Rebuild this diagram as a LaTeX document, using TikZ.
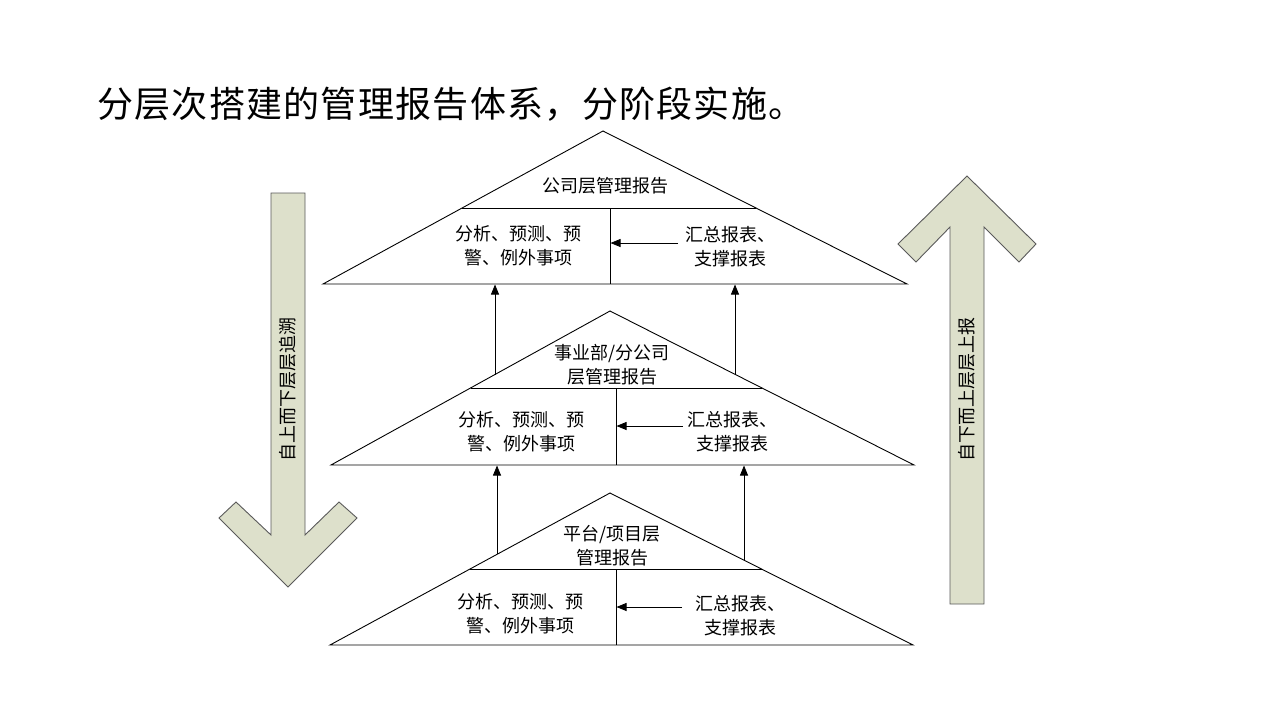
\documentclass[tikz,border=0pt]{standalone}
\usepackage{fontspec}
\newfontfamily\cjk{Noto Sans CJK SC}
\newfontfamily\cjktitle[LetterSpace=3.6]{Noto Sans CJK SC}
\usetikzlibrary{arrows.meta}
\definecolor{arrowfill}{RGB}{221,224,203}
\definecolor{arrowline}{RGB}{90,90,90}
\tikzset{
  tri/.style={draw=black, line width=0.9pt, line join=miter},
  sep/.style={draw=black, line width=0.9pt},
  lbl/.style={font=\cjk\fontsize{18}{24}\selectfont, align=center, inner sep=0pt},
  flow/.style={draw=black, line width=0.8pt, -{Triangle[length=10pt,width=8pt]}},
  block/.style={fill=arrowfill, draw=arrowline, line width=0.9pt, line join=miter},
}
\begin{document}
\begin{tikzpicture}[x=1pt,y=-1pt]
\useasboundingbox[fill=white] (0,0) rectangle (1280,720);

% title
\node[anchor=west, inner sep=0pt, font=\cjktitle\fontsize{36}{40}\selectfont] (title) at (97,104) {分层次搭建的管理报告体系，分阶段实施。};

% block arrows
\draw[block] (271,193) -- (305,193) -- (305,535) -- (339,502) -- (357,518) -- (288,587) -- (219,518) -- (236,502) -- (271,535) -- cycle;
\node[lbl, rotate=90] (down) at (288,389) {自上而下层层追溯};
\draw[block] (967,176) -- (1036,244) -- (1019,262) -- (984,227) -- (984,604) -- (950,604) -- (950,227) -- (916,262) -- (898,244) -- cycle;
\node[lbl, rotate=90] (up) at (967,389) {自下而上层层上报};

% top triangle
\draw[tri] (323,284) -- (603,131) -- (907,284) -- cycle;
\draw[sep] (462,208) -- (756,208);
\draw[sep] (610,208) -- (610,284);
\node[lbl] (t1) at (605,186) {公司层管理报告};
\node[lbl] (t2) at (518,246) {分析、预测、预\\警、例外事项};
\node[lbl] (t3) at (730,247) {汇总报表、\\支撑报表};
\coordinate (t3a) at (678,243);
\coordinate (t2a) at (610.5,243);
\draw[flow] (t3a) -- (t2a);

% middle triangle
\draw[tri] (331,465) -- (610,311) -- (914,465) -- cycle;
\draw[sep] (470.5,388) -- (762,388);
\draw[sep] (616,388) -- (616,465);
\node[lbl] (m1) at (612,365) {事业部/分公司\\层管理报告};
\node[lbl] (m2) at (521,432) {分析、预测、预\\警、例外事项};
\node[lbl] (m3) at (732,432) {汇总报表、\\支撑报表};
\coordinate (m3a) at (683,426);
\coordinate (m2a) at (616.5,426);
\draw[flow] (m3a) -- (m2a);

% bottom triangle
\draw[tri] (330,645) -- (610,493) -- (913,645) -- cycle;
\draw[sep] (470,569) -- (761.5,569);
\draw[sep] (616,569) -- (616,645);
\node[lbl] (b1) at (612,545.5) {平台/项目层\\管理报告};
\node[lbl] (b2) at (520,614) {分析、预测、预\\警、例外事项};
\node[lbl] (b3) at (740,616) {汇总报表、\\支撑报表};
\coordinate (b3a) at (682,607);
\coordinate (b2a) at (616.5,607);
\draw[flow] (b3a) -- (b2a);

% vertical connectors
\coordinate (mL) at (495,374.5);
\coordinate (tL) at (495,284.5);
\coordinate (mR) at (735,374.3);
\coordinate (tR) at (735,284.5);
\coordinate (bL) at (497,554);
\coordinate (mLb) at (497,465.5);
\coordinate (bR) at (744,560);
\coordinate (mRb) at (744,465.5);
\draw[flow] (mL) -- (tL);
\draw[flow] (mR) -- (tR);
\draw[flow] (bL) -- (mLb);
\draw[flow] (bR) -- (mRb);
\end{tikzpicture}
\end{document}
